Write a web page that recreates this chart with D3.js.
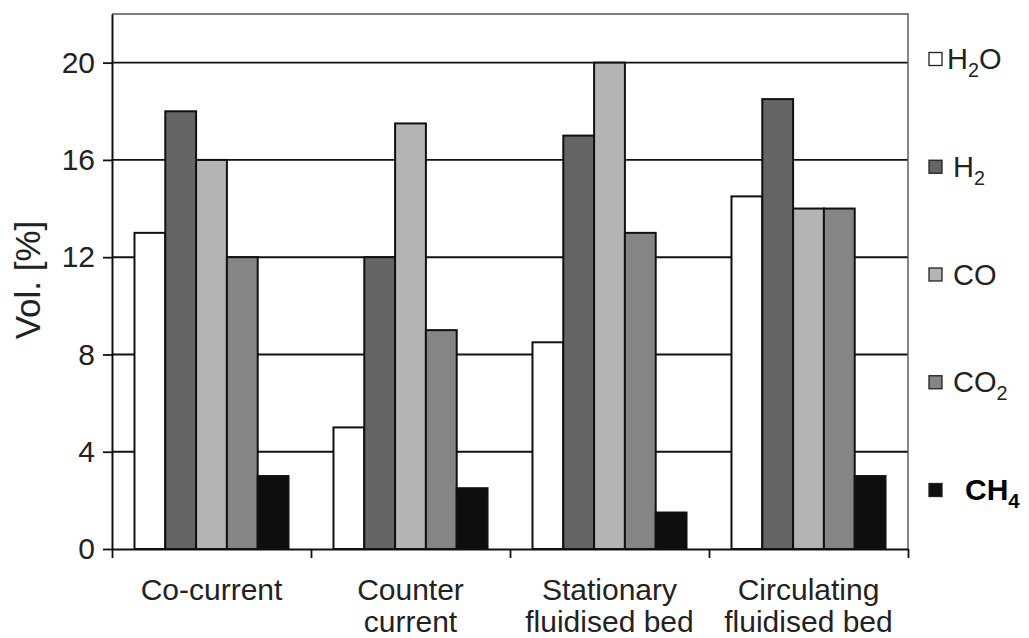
<!DOCTYPE html>
<html>
<head>
<meta charset="utf-8">
<script src="https://cdn.jsdelivr.net/npm/d3@7"></script>
<style>
  body { margin: 0; background: #fff; }
  svg { display: block; font-family: "Liberation Sans", Arial, Helvetica, sans-serif; }
</style>
</head>
<body>
<svg id="chart"></svg>
<script>
const categories = [["Co-current"], ["Counter", "current"], ["Stationary", "fluidised bed"], ["Circulating", "fluidised bed"]];
const series = ["H2O", "H2", "CO", "CO2", "CH4"];
const h2o = [13, 5, 8.5, 14.5];
const h2 = [18, 12, 17, 18.5];
const co = [16, 17.5, 20, 14];
const co2 = [12, 9, 13, 14];
const ch4 = [3, 2.5, 1.5, 3];
const yTicks = [0, 4, 8, 12, 16, 20];
const yTitle = "Vol. [%]";

const values = [h2o, h2, co, co2, ch4];

const W = 1029, H = 638;
const margin = { top: 14, right: 121, bottom: 89, left: 112 };
const innerW = W - margin.left - margin.right;
const innerH = H - margin.top - margin.bottom;

const svg = d3.select("#chart").attr("width", W).attr("height", H);
const g = svg.append("g").attr("transform", `translate(${margin.left},${margin.top})`);

const x0 = d3.scaleBand().domain(d3.range(categories.length)).range([0, innerW]);
const x1 = d3.scaleBand().domain(series).range([0, x0.bandwidth()]).paddingOuter(0.73);
const xEdge = d3.scaleLinear().domain([0, categories.length]).range([0, innerW]);
const y = d3.scaleLinear().domain([0, 22]).range([innerH, 0]);

const color = d3.scaleOrdinal()
    .domain(series)
    .range(["#ffffff", "#656565", "#b4b4b4", "#858585", "#0e0e0e"]);

// grid lines behind the bars
g.append("g").selectAll("line")
    .data(yTicks.filter(d => d > 0))
    .join("line")
    .attr("x1", 0).attr("x2", innerW)
    .attr("y1", d => y(d)).attr("y2", d => y(d))
    .attr("stroke", "#111").attr("stroke-width", 1.9);

// frame: top and right
g.append("path")
    .attr("d", `M0,0H${innerW}V${innerH}`)
    .attr("fill", "none").attr("stroke", "#555").attr("stroke-width", 1.4);

// bars
const groups = g.append("g").selectAll("g")
    .data(categories.map((c, i) => i))
    .join("g")
    .attr("transform", i => `translate(${x0(i)},0)`);

groups.selectAll("rect")
    .data(i => series.map((s, k) => ({ s, v: values[k][i] })))
    .join("rect")
    .attr("x", d => x1(d.s))
    .attr("y", d => y(d.v))
    .attr("width", x1.bandwidth())
    .attr("height", d => y(0) - y(d.v))
    .attr("fill", d => color(d.s))
    .attr("stroke", "#111")
    .attr("stroke-width", 2);

// y axis
const yAxis = g.append("g")
    .call(d3.axisLeft(y).tickValues(yTicks).tickSize(9).tickSizeOuter(0).tickPadding(8));
yAxis.select(".domain").attr("stroke", "#111").attr("stroke-width", 2);
yAxis.selectAll(".tick line").attr("stroke", "#111").attr("stroke-width", 1.8);
yAxis.selectAll(".tick text")
    .attr("fill", "#222")
    .style("font-size", "30px")
    .attr("font-family", null);

// x axis, ticks at group boundaries
const xAxis = g.append("g")
    .attr("transform", `translate(0,${innerH})`)
    .call(d3.axisBottom(xEdge).tickValues(d3.range(categories.length + 1)).tickFormat("").tickSize(9).tickSizeOuter(0));
xAxis.select(".domain").attr("stroke", "#111").attr("stroke-width", 2);
xAxis.selectAll(".tick line").attr("stroke", "#111").attr("stroke-width", 1.8);

// category labels
g.append("g").selectAll("text")
    .data(categories)
    .join("text")
    .attr("x", (d, i) => x0(i) + x0.bandwidth() / 2)
    .attr("y", innerH + 51)
    .attr("text-anchor", "middle")
    .attr("fill", "#222")
    .style("font-size", "30px")
    .selectAll("tspan")
    .data(d => d)
    .join("tspan")
    .attr("x", function () { return this.parentNode.getAttribute("x"); })
    .attr("dy", (d, k) => k === 0 ? 0 : 32)
    .text(d => d);

// y title
svg.append("text")
    .attr("transform", `translate(40,${margin.top + 266}) rotate(-90)`)
    .attr("text-anchor", "middle")
    .attr("fill", "#222")
    .style("font-size", "35px")
    .text(yTitle);

// legend down the right side
const ly = d3.scalePoint().domain(series).range([59, 490]);
const legend = svg.append("g").selectAll("g")
    .data(series)
    .join("g")
    .attr("transform", d => `translate(929,${ly(d)})`);

legend.append("rect")
    .attr("x", 0).attr("y", -6.5)
    .attr("width", 13).attr("height", 13)
    .attr("fill", d => color(d))
    .attr("stroke", "#222").attr("stroke-width", 1.3);

legend.append("text")
    .attr("x", d => d === "CH4" ? 36 : (d === "H2O" ? 18 : 24))
    .attr("y", 10)
    .attr("fill", d => d === "CH4" ? "#000" : "#222")
    .style("font-size", d => d === "CH4" ? "30px" : "29px")
    .style("font-weight", d => d === "CH4" ? "bold" : "normal")
    .each(function (d) {
        const t = d3.select(this);
        let down = false;
        d.split(/(\d)/).filter(p => p).forEach(p => {
            const isSub = /\d/.test(p);
            const ts = t.append("tspan").text(p);
            if (isSub) { ts.attr("dy", 8).style("font-size", "0.68em"); down = true; }
            else if (down) { ts.attr("dy", -8); down = false; }
        });
    });
</script>
</body>
</html>
